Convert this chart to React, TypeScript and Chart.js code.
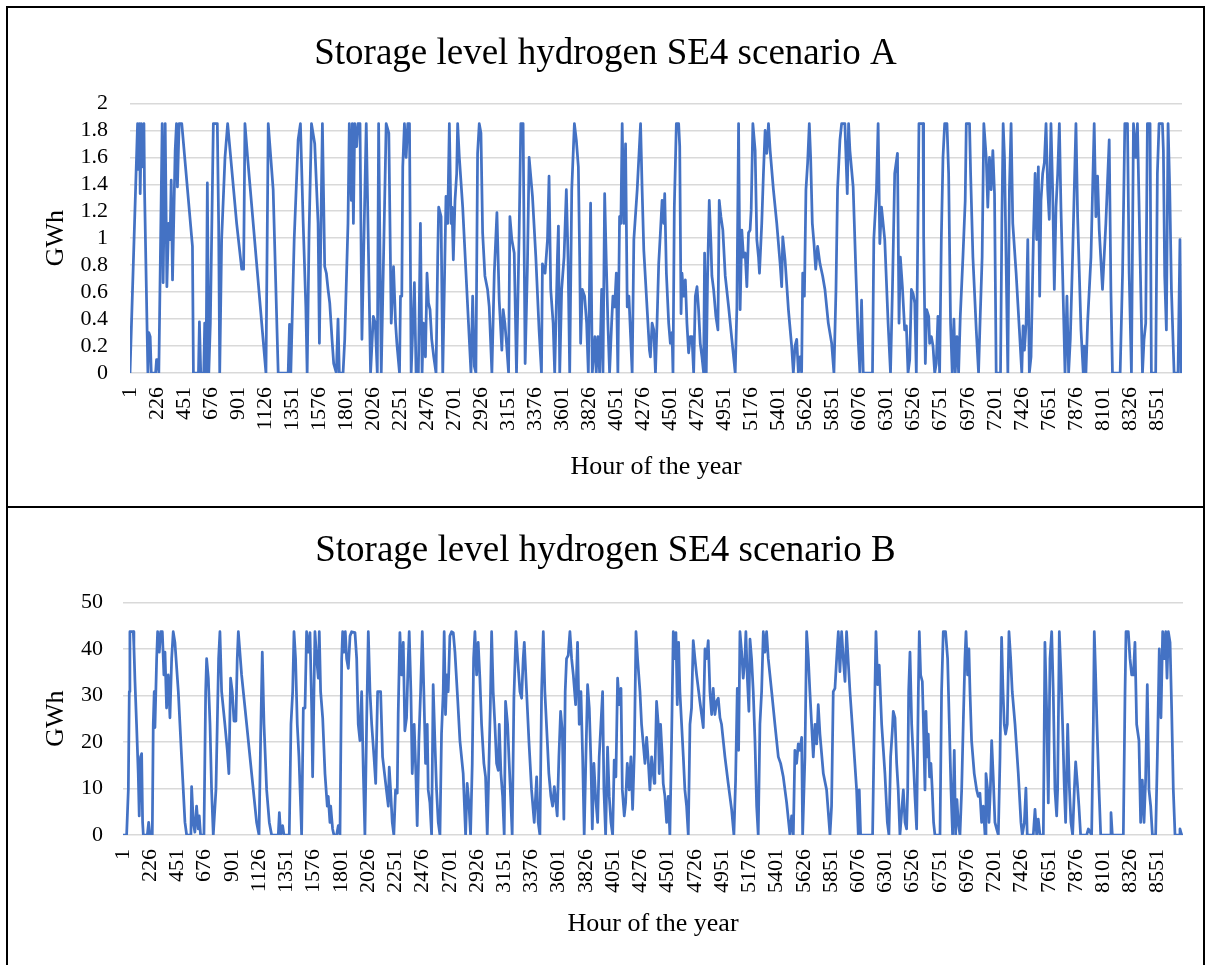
import React, { useEffect, useRef } from 'react';
import Chart from 'chart.js/auto';

const FONT = "'Liberation Serif', 'Times New Roman', serif";
const LINE_COLOR = '#4472C4';
const GRID_COLOR = '#d9d9d9';

const TITLE_A = 'Storage level hydrogen SE4 scenario A';
const TITLE_B = 'Storage level hydrogen SE4 scenario B';
const X_TITLE = 'Hour of the year';
const Y_TITLE = 'GWh';

const HOUR_TICKS = [1, 226, 451, 676, 901, 1126, 1351, 1576, 1801, 2026, 2251, 2476, 2701, 2926, 3151, 3376, 3601, 3826, 4051, 4276, 4501, 4726, 4951, 5176, 5401, 5626, 5851, 6076, 6301, 6526, 6751, 6976, 7201, 7426, 7651, 7876, 8101, 8326, 8551];

// [hour, GWh] vertices, scenario A
const STORAGE_A: [number, number][] = [
  [1,0],[64,1.85],[72,1.51],[81,1.85],[86,1.33],[95,1.85],[106,1.53],[117,1.85],[122,1.36],[150,0],[158,0.30],[169,0.27],[178,0],[214,0],[222,0.10],[233,0.10],[241,0],[269,1.85],[277,0.67],[294,1.85],[308,0.64],[322,1.11],[335,0.99],[344,1.43],[355,0.69],[377,1.65],[388,1.85],[396,1.38],[410,1.85],[432,1.85],[521,0.94],[529,0],[571,0],[579,0.38],[590,0],[615,0],[623,0.37],[634,0],[645,1.41],[657,0],[670,0.37],[695,1.85],[728,1.85],[739,1.11],[748,0],[764,0.99],[792,1.60],[814,1.85],[889,1.11],[931,0.77],[947,0.77],[958,1.85],[980,1.60],[1133,0],[1152,1.85],[1193,1.36],[1235,0],[1318,0],[1329,0.36],[1340,0],[1368,0.99],[1401,1.73],[1420,1.85],[1443,1.11],[1465,0.49],[1476,0],[1492,1.04],[1512,1.85],[1539,1.70],[1567,1.11],[1578,0.22],[1595,1.36],[1603,1.85],[1622,0.79],[1636,0.74],[1650,0.62],[1664,0.52],[1683,0.25],[1697,0.07],[1719,0],[1733,0.40],[1744,0],[1775,0],[1789,0.25],[1816,1.11],[1827,1.85],[1844,1.28],[1852,1.85],[1861,1.11],[1872,1.85],[1888,1.68],[1899,1.85],[1916,1.85],[1932,0.25],[1968,1.85],[2004,0],[2027,0.42],[2043,0.37],[2060,0],[2071,1.85],[2093,0],
  [2134,1.85],[2156,1.78],[2176,0.37],[2195,0.79],[2212,0.37],[2223,0.22],[2245,0],[2253,0.57],[2264,0.57],[2272,1.53],[2286,1.85],[2300,1.60],[2314,1.85],[2328,1.85],[2342,0],[2355,0.32],[2369,0.67],[2383,0],[2402,0],[2419,1.11],[2433,0],[2444,0.37],[2461,0.12],[2474,0.74],[2486,0.52],[2499,0.47],[2513,0.25],[2530,0.12],[2549,0],[2563,0.86],[2571,1.23],[2591,1.16],[2605,0],[2618,0.62],[2632,1.31],[2646,1.11],[2660,1.85],[2674,1.11],[2682,1.23],[2693,0.84],[2707,1.28],[2721,1.48],[2729,1.85],[2743,1.60],[2771,1.23],[2840,0],[2854,0.57],[2868,0.05],[2881,0],[2895,1.63],[2909,1.85],[2923,1.78],[2937,1.04],[2956,0.72],[2978,0.62],[2992,0.49],[3014,0],[3034,0.74],[3056,1.19],[3075,0.54],[3097,0.17],[3108,0.47],[3122,0.37],[3136,0.22],[3153,0],[3164,1.16],[3180,0.99],[3200,0.89],[3219,0],[3241,1.04],[3255,1.85],[3274,1.85],[3291,0.07],[3310,0.79],[3324,1.60],[3352,1.31],[3380,0.86],[3407,0.32],[3427,0],[3435,0.81],[3457,0.74],[3477,0.99],[3490,1.46],[3504,0.62],[3524,0.37],[3537,0],[3560,0.86],[3568,1.09],[3579,0],[3595,0.62],[3615,0.86],[3634,1.36],[3648,0.86],[3662,0],[3679,1.36],[3701,1.85],[3717,1.73],[3734,1.53],[3745,0.86],[3753,0.22],[3767,0.62],[3786,0.57],[3803,0.37],[3817,0],[3836,1.26],[3850,0],[3872,0.27],[3883,0],[3897,0.27],[3911,0],[3928,0.62],[3939,0],[3953,1.33],[3967,0.81],[3980,0.37],[3994,0],[4011,0.37],[4022,0.57],[4036,0.49],[4050,0.74],[4063,0],[4077,1.16],[4088,1.11],[4099,1.85],[4113,1.11],[4127,1.70],[4141,0.49],[4155,0.57],[4182,0],[4196,0.99],[4224,1.36],[4252,1.85],[4265,1.36],[4279,0.91],[4307,0.47],[4326,0.17],
  [4334,0.12],[4348,0.37],[4362,0.32],[4376,0],[4389,0.37],[4403,0.81],[4417,1.04],[4431,1.28],[4445,1.11],[4453,1.33],[4467,0.74],[4486,0.37],[4500,0.22],[4514,0.30],[4522,0],[4533,1.23],[4550,1.85],[4569,1.85],[4578,1.68],[4589,0.44],[4597,0.74],[4611,0.57],[4625,0.69],[4638,0.37],[4652,0.15],[4666,0.27],[4680,0.27],[4694,0],[4708,0.57],[4722,0.64],[4735,0.47],[4749,0.22],[4763,0.12],[4777,0],[4785,0.89],[4799,0],[4810,0.72],[4824,1.28],[4838,0.96],[4846,0.72],[4860,0.62],[4879,0.42],[4896,0.32],[4907,1.28],[4921,1.16],[4937,1.06],[4957,0.72],[4985,0.49],[5012,0.25],[5040,0],[5054,0.49],[5068,1.85],[5081,0.47],[5095,1.06],[5109,0.86],[5123,0.89],[5137,0.64],[5151,1.04],[5164,1.06],[5173,1.21],[5187,1.85],[5206,1.65],[5220,0.99],[5234,0.86],[5242,0.74],[5261,1.11],[5275,1.48],[5289,1.80],[5303,1.63],[5317,1.85],[5331,1.65],[5358,1.36],[5386,1.11],[5414,0.81],[5427,0.64],[5436,1.01],[5455,0.84],[5483,0.47],[5510,0.20],[5524,0],[5538,0.20],[5552,0.25],[5566,0],[5580,0.12],[5593,0],[5602,0.74],[5616,0.57],[5629,1.36],[5643,1.56],[5657,1.85],[5668,1.60],[5682,1.11],[5696,0.96],[5710,0.77],[5726,0.94],[5746,0.81],[5768,0.72],[5787,0.62],[5815,0.37],[5843,0.22],[5862,0],[5879,0.62],[5892,1.36],[5912,1.73],[5926,1.85],[5953,1.85],[5973,1.33],[5984,1.85],[5995,1.65],[6022,1.38],[6045,0.74],[6064,0.25],[6078,0],[6092,0.54],[6106,0],[6183,0],[6194,0.99],[6216,1.36],[6230,1.85],[6244,0.96],[6258,1.23],[6285,0.99],[6313,0.37],[6333,0],[6349,0.62],[6368,1.48],[6391,1.63],[6404,0.37],[6415,0.86],[6432,0.64],[6451,0.32],[6465,0.35],[6479,0],[6493,0.10],[6507,0.62],[6521,0.59],[6535,0.52],[6548,0],[6570,1.85],
  [6604,1.85],[6609,1.01],[6623,0.07],[6634,0.47],[6651,0.42],[6659,0.22],[6673,0.27],[6687,0.20],[6701,0],[6714,0.07],[6728,0.42],[6742,0],[6756,0.99],[6770,1.60],[6784,1.85],[6803,1.85],[6817,1.48],[6833,0.37],[6847,0],[6861,0.40],[6872,0],[6886,0.27],[6900,0],[6914,0.42],[6936,0.86],[6955,1.28],[6964,1.85],[6991,1.85],[7000,1.48],[7019,0.86],[7047,0.32],[7066,0],[7080,0.42],[7096,0.86],[7110,1.85],[7130,1.60],[7143,1.23],[7157,1.60],[7171,1.36],[7185,1.65],[7199,1.33],[7213,0],[7249,0],[7260,1.11],[7271,1.85],[7282,1.60],[7310,0],[7323,1.36],[7337,1.85],[7351,1.11],[7379,0.74],[7406,0.32],[7426,0],[7437,0.35],[7448,0.17],[7462,0.37],[7476,0.99],[7489,0],[7503,0.12],[7523,1.01],[7537,1.48],[7550,0.99],[7564,1.53],[7575,0.57],[7586,1.28],[7600,1.48],[7614,1.56],[7628,1.85],[7642,1.36],[7655,1.14],[7669,1.85],[7683,1.36],[7697,0.62],[7711,1.23],[7725,1.48],[7739,1.85],[7752,1.23],[7766,0.74],[7786,0],[7802,0.57],[7816,0],[7830,0.25],[7849,0.86],[7863,1.36],[7877,1.85],[7891,1.16],[7919,0.32],[7938,0],[7946,0.20],[7960,0],[7974,0.37],[8002,0.86],[8029,1.85],[8043,1.16],[8057,1.46],[8071,1.06],[8098,0.62],[8126,1.11],[8154,1.73],[8168,0.62],[8181,0],[8245,0],[8265,0.74],[8284,1.85],[8306,1.85],[8320,0.74],[8339,0],[8356,1.85],[8375,1.60],[8389,1.85],[8411,0.86],[8431,0],[8444,0.25],[8458,0.37],[8472,1.85],[8494,1.85],[8505,0],[8541,0],[8555,1.48],[8569,1.85],[8597,1.85],[8605,1.65],[8616,0.72],[8630,0.32],[8644,1.85],[8658,1.36],[8672,0.62],[8694,0],[8727,0],[8743,0.99],[8752,0],[8760,0],
];

// [hour, GWh] vertices, scenario B
const STORAGE_B: [number, number][] = [
  [1,0],[31,0],[45,9.7],[53,30.8],[58,43.7],[86,43.7],[91,40.7],[100,33.0],[113,23.8],[127,13.2],[135,4.1],[146,16.8],[155,17.5],[163,2.7],[169,0],[202,0],[213,2.7],[224,0],[243,0],[251,23.8],[259,30.8],[265,23.1],[279,37.9],[287,43.7],[301,39.3],[312,43.7],[326,43.7],[339,34.4],[348,39.3],[361,27.3],[375,34.4],[389,25.2],[403,37.9],[416,43.7],[430,41.4],[458,30.8],[485,16.8],[513,2.7],[527,0],[562,0],[568,10.4],[582,2.7],[595,0.6],[609,6.2],[623,1.3],[631,4.1],[642,0],[670,0],[684,30.8],[692,37.9],[706,33.7],[720,23.8],[733,9.7],[747,0],[769,9.7],[780,23.8],[791,37.9],[802,43.7],[816,30.8],[843,23.8],[863,18.2],[876,13.2],[890,33.7],[904,30.8],[918,24.5],[934,24.5],[945,37.9],[954,43.7],[981,34.4],[1023,23.8],[1064,13.2],[1105,2.7],[1125,0],[1138,20.3],[1152,39.3],[1166,23.8],[1188,9.7],[1210,2.7],[1229,0],[1284,0],[1293,4.8],[1304,0],[1320,2.0],[1331,0],[1375,0],[1389,23.8],[1403,30.8],[1414,43.7],[1427,37.9],[1441,23.8],[1455,16.8],[1469,6.2],[1477,0],[1491,27.3],[1505,27.3],[1518,43.7],[1532,39.3],[1546,43.5],[1560,27.3],[1568,12.5],[1579,30.8],[1587,43.7],[1601,37.9],[1615,33.7],[1623,43.7],[1634,30.8],[1651,25.2],[1670,13.2],[1689,6.2],[1697,8.3],[1711,2.7],[1717,6.2],[1733,1.3],[1744,0],[1766,0],[1780,2.0],[1794,0],[1808,37.9],[1816,43.7],[1827,39.3],[1838,43.7],[1849,37.9],[1863,35.8],[1877,42.8],[1890,43.7],[1918,43.5],[1932,37.9],[1945,23.8],[1959,20.3],[1973,30.8],[1987,13.2],[2000,0],[2014,23.8],[2028,43.7],[2042,30.8],[2056,23.8],[2075,16.8],[2089,11.1],[2105,30.8],[2119,30.8],[2130,30.8],[2146,16.8],
  [2193,6.2],[2201,14.6],[2212,9.7],[2226,2.7],[2239,0],[2253,9.7],[2267,9.0],[2275,25.9],[2289,43.5],[2303,34.4],[2317,41.4],[2330,22.4],[2344,25.2],[2358,37.9],[2366,43.7],[2380,30.8],[2391,13.2],[2407,23.8],[2421,13.2],[2432,2.0],[2446,20.3],[2460,30.8],[2474,43.7],[2487,30.8],[2501,15.4],[2515,23.8],[2523,9.7],[2537,6.9],[2551,0],[2564,32.3],[2578,20.3],[2592,9.7],[2606,2.7],[2620,0],[2633,21.7],[2647,30.8],[2655,43.7],[2666,25.9],[2677,34.4],[2688,30.8],[2702,42.8],[2716,43.7],[2730,43.5],[2744,39.3],[2766,29.4],[2785,20.3],[2812,13.2],[2832,0],[2845,11.1],[2859,6.9],[2873,0],[2887,15.4],[2898,37.9],[2909,43.7],[2923,34.4],[2936,41.4],[2950,33.7],[2964,23.8],[2983,15.4],[2997,12.5],[3011,0],[3025,15.4],[3036,27.3],[3047,43.7],[3060,30.8],[3074,23.8],[3088,15.4],[3102,13.9],[3110,23.8],[3124,13.2],[3138,8.3],[3151,0],[3162,28.7],[3179,23.8],[3190,16.8],[3204,8.3],[3217,0],[3231,29.4],[3248,43.7],[3262,37.9],[3281,30.8],[3295,29.4],[3308,37.9],[3317,41.4],[3336,30.8],[3355,20.3],[3377,9.7],[3399,2.7],[3419,12.5],[3432,2.7],[3446,0],[3460,30.8],[3474,43.7],[3487,30.8],[3507,20.3],[3520,13.2],[3537,8.3],[3551,6.2],[3565,10.4],[3576,7.6],[3589,4.1],[3603,16.8],[3617,26.6],[3631,22.4],[3644,3.4],[3655,30.8],[3666,37.9],[3680,38.6],[3694,43.7],[3708,37.9],[3722,34.4],[3741,28.0],[3757,41.4],[3771,23.8],[3785,30.8],[3799,16.8],[3812,0],[3826,16.8],[3840,32.3],[3854,27.3],[3868,15.4],[3879,1.3],[3892,15.4],[3906,8.3],[3923,2.7],[3936,16.8],[3950,23.8],[3964,30.8],[3975,9.7],[3989,0],[4005,18.9],[4019,8.3],[4033,2.7],[4047,0],[4060,16.1],[4074,12.5],[4088,33.7],[4102,28.0],[4116,31.5],[4127,9.7],[4143,4.1],[4154,6.9],[4168,15.4],[4184,9.7],[4198,16.8],[4212,5.5],[4226,17.5],[4240,43.7],[4253,37.9],[4273,30.8],[4286,23.8],[4300,19.6],[4314,15.4],[4328,21.0],[4341,16.1],[4355,9.7],[4369,16.8],[4391,11.1],
  [4396,13.2],[4410,28.7],[4424,23.8],[4432,13.2],[4443,23.8],[4457,16.8],[4465,11.1],[4479,8.3],[4493,2.7],[4507,8.3],[4520,0],[4534,20.3],[4548,43.7],[4562,37.9],[4570,43.5],[4581,28.0],[4592,41.4],[4603,30.8],[4617,23.8],[4631,16.8],[4644,9.7],[4658,6.2],[4672,0],[4686,23.8],[4699,27.3],[4713,41.8],[4727,37.9],[4741,34.4],[4768,28.7],[4796,23.1],[4810,40.0],[4823,37.9],[4837,41.8],[4851,30.8],[4865,25.9],[4878,31.5],[4892,25.9],[4906,28.7],[4920,29.4],[4934,25.2],[4947,23.8],[4975,16.8],[5002,11.1],[5030,5.5],[5049,0],[5063,11.8],[5077,31.5],[5088,18.2],[5099,43.7],[5113,39.3],[5126,33.7],[5140,37.9],[5148,43.7],[5159,34.4],[5173,26.6],[5182,42.1],[5195,37.9],[5209,30.8],[5223,20.3],[5237,6.2],[5250,0],[5264,23.8],[5278,30.8],[5292,43.7],[5305,39.3],[5319,43.7],[5333,37.9],[5361,30.8],[5388,23.8],[5416,16.8],[5435,15.4],[5457,12.5],[5485,6.9],[5512,0],[5526,4.1],[5540,0],[5553,18.2],[5567,15.4],[5581,19.6],[5595,18.2],[5609,21.0],[5617,0],[5636,16.8],[5650,43.7],[5664,37.9],[5677,30.8],[5691,23.8],[5705,16.8],[5719,23.8],[5733,19.6],[5746,28.0],[5760,21.7],[5788,13.2],[5815,9.7],[5843,0],[5856,6.2],[5870,30.8],[5884,31.5],[5898,37.9],[5912,43.7],[5925,35.1],[5939,43.7],[5953,37.9],[5967,33.0],[5980,43.7],[5994,37.2],[6008,30.8],[6036,20.3],[6063,9.7],[6077,0],[6085,9.7],[6096,0],[6195,0],[6209,23.8],[6223,43.7],[6237,32.3],[6250,36.5],[6270,23.8],[6297,13.2],[6317,2.7],[6330,0],[6344,16.8],[6358,22.4],[6366,26.6],[6380,25.2],[6394,15.4],[6407,9.7],[6421,0],[6435,4.8],[6449,9.7],[6463,2.7],[6476,1.3],[6485,9.7],[6493,30.8],[6504,39.3],[6518,23.8],[6531,16.8],[6545,8.3],
  [6559,1.3],[6573,30.8],[6581,43.7],[6592,34.4],[6606,33.0],[6614,25.2],[6628,9.7],[6636,26.6],[6647,16.8],[6655,21.7],[6666,12.5],[6677,15.4],[6688,9.7],[6699,2.7],[6710,0],[6752,0],[6765,30.8],[6779,43.7],[6798,43.7],[6815,37.9],[6829,23.8],[6843,9.7],[6856,0],[6870,18.2],[6881,0],[6892,7.6],[6903,2.7],[6917,0],[6931,9.7],[6944,23.8],[6958,37.9],[6967,43.7],[6980,34.4],[6991,40.0],[7000,30.8],[7013,20.3],[7035,13.2],[7055,9.7],[7068,8.3],[7082,9.0],[7096,2.7],[7110,6.2],[7124,0],[7132,13.2],[7146,9.7],[7157,2.7],[7168,9.7],[7179,20.3],[7192,12.5],[7206,2.7],[7220,1.3],[7234,0],[7248,16.8],[7261,42.5],[7272,31.5],[7283,23.8],[7294,21.7],[7308,23.8],[7322,43.7],[7336,37.9],[7349,30.8],[7372,23.8],[7399,13.2],[7421,2.7],[7432,0],[7449,2.7],[7462,10.1],[7473,0],[7523,0],[7537,5.5],[7551,0],[7564,3.4],[7578,0],[7606,0],[7619,41.4],[7633,27.3],[7647,6.9],[7661,37.9],[7675,43.7],[7688,30.8],[7702,9.7],[7716,4.1],[7724,9.7],[7738,43.7],[7752,34.4],[7765,23.8],[7779,10.4],[7790,2.7],[7807,23.8],[7821,10.4],[7834,2.7],[7848,0],[7862,9.7],[7873,15.7],[7887,11.1],[7900,6.2],[7914,0],[7964,0],[7978,1.3],[8005,0],[8019,23.8],[8027,43.7],[8038,34.4],[8049,23.8],[8066,9.7],[8080,0],[8157,0],[8165,4.8],[8176,0],[8267,0],[8281,30.8],[8289,43.7],[8308,43.7],[8322,37.9],[8336,34.4],[8350,34.4],[8363,41.4],[8377,23.8],[8396,20.3],[8410,2.7],[8424,11.8],[8438,2.7],[8451,11.8],[8465,32.3],[8479,9.7],[8493,6.2],[8507,0],[8534,0],[8548,16.8],[8564,40.0],[8578,25.2],[8592,43.7],[8606,37.9],[8617,43.7],[8628,33.7],[8639,43.7],[8653,41.4],[8666,27.3],[8680,9.7],[8694,0],[8727,0],[8735,1.3],[8749,0],[8760,0],
];

type Layout = {
  yWidth: number;
  yTickPad: number;
  yTitlePad: number;
  xHeight: number;
  xTickPad: number;
  xTitlePad: number;
  titleTop: number;
  titleBottom: number;
  rightGap: number;
};

type Props = {
  title: string;
  points: [number, number][];
  yMax: number;
  yStep: number;
  layout: Layout;
};

function StorageChart({ title, points, yMax, yStep, layout }: Props) {
  const ref = useRef<HTMLCanvasElement | null>(null);
  useEffect(() => {
    if (!ref.current) return;
    const chart = new Chart(ref.current, {
      type: 'line',
      data: {
        datasets: [
          {
            data: points.map(([h, v]) => ({ x: h, y: v })),
            borderColor: LINE_COLOR,
            backgroundColor: LINE_COLOR,
            borderWidth: 2.75,
            pointRadius: 0,
            tension: 0,
            fill: false,
            borderJoinStyle: 'round',
          },
        ],
      },
      options: {
        animation: false,
        responsive: true,
        maintainAspectRatio: false,
        events: [],
        layout: { padding: 0 },
        plugins: {
          legend: { display: false },
          tooltip: { enabled: false },
          title: {
            display: true,
            text: title,
            color: '#000',
            font: { family: FONT, size: 37, weight: 'normal' },
            padding: { top: layout.titleTop, bottom: layout.titleBottom },
          },
        },
        scales: {
          x: {
            type: 'linear',
            min: 1,
            max: 8760,
            grid: { display: false, drawTicks: false },
            border: { display: false },
            afterBuildTicks: (scale: any) => {
              scale.ticks = HOUR_TICKS.map((v) => ({ value: v }));
            },
            afterFit: (scale: any) => {
              scale.height = layout.xHeight;
            },
            ticks: {
              autoSkip: false,
              maxRotation: 90,
              minRotation: 90,
              padding: layout.xTickPad,
              color: '#000',
              font: { family: FONT, size: 22 },
              callback: (v: any) => String(v),
            },
            title: {
              display: true,
              text: X_TITLE,
              color: '#000',
              font: { family: FONT, size: 26 },
              padding: { top: 0, bottom: layout.xTitlePad },
            },
          },
          y: {
            min: 0,
            max: yMax,
            grid: { color: GRID_COLOR, lineWidth: 1.5, drawTicks: false },
            border: { display: false },
            afterFit: (scale: any) => {
              scale.width = layout.yWidth;
            },
            ticks: {
              stepSize: yStep,
              autoSkip: false,
              padding: layout.yTickPad,
              color: '#000',
              font: { family: FONT, size: 22 },
              callback: (v: any) => String(Math.round(Number(v) * 10) / 10),
            },
            title: {
              display: true,
              text: Y_TITLE,
              color: '#000',
              font: { family: FONT, size: 26 },
              padding: { top: layout.yTitlePad, bottom: 0 },
            },
          },
          gap: {
            type: 'linear',
            position: 'right',
            display: true,
            grid: { display: false, drawTicks: false },
            border: { display: false },
            ticks: { display: false },
            afterFit: (scale: any) => {
              scale.width = layout.rightGap;
            },
          },
        },
      },
    });
    return () => chart.destroy();
  }, [title, points, yMax, yStep, layout]);

  return (
    <div style={{ position: 'relative', width: 1195, height: 498 }}>
      <canvas ref={ref} />
    </div>
  );
}

const LAYOUT_A: Layout = {
  yWidth: 122,
  yTickPad: 22,
  yTitlePad: 33,
  xHeight: 133,
  xTickPad: 14,
  xTitlePad: 23,
  titleTop: 24,
  titleBottom: 27,
  rightGap: 21,
};

const LAYOUT_B: Layout = {
  yWidth: 115,
  yTickPad: 20,
  yTitlePad: 33,
  xHeight: 171,
  xTickPad: 14,
  xTitlePad: 66,
  titleTop: 21,
  titleBottom: 29,
  rightGap: 20,
};

export default function App() {
  const box: React.CSSProperties = {
    position: 'absolute',
    left: 6,
    width: 1195,
    height: 498,
    border: '2px solid #000',
    background: '#fff',
  };
  return (
    <div
      style={{
        position: 'fixed',
        left: 0,
        top: 0,
        width: 1205,
        height: 965,
        overflow: 'hidden',
        background: '#fff',
      }}
    >
      <div style={{ ...box, top: 6 }}>
        <StorageChart title={TITLE_A} points={STORAGE_A} yMax={2} yStep={0.2} layout={LAYOUT_A} />
      </div>
      <div style={{ ...box, top: 506 }}>
        <StorageChart title={TITLE_B} points={STORAGE_B} yMax={50} yStep={10} layout={LAYOUT_B} />
      </div>
    </div>
  );
}
